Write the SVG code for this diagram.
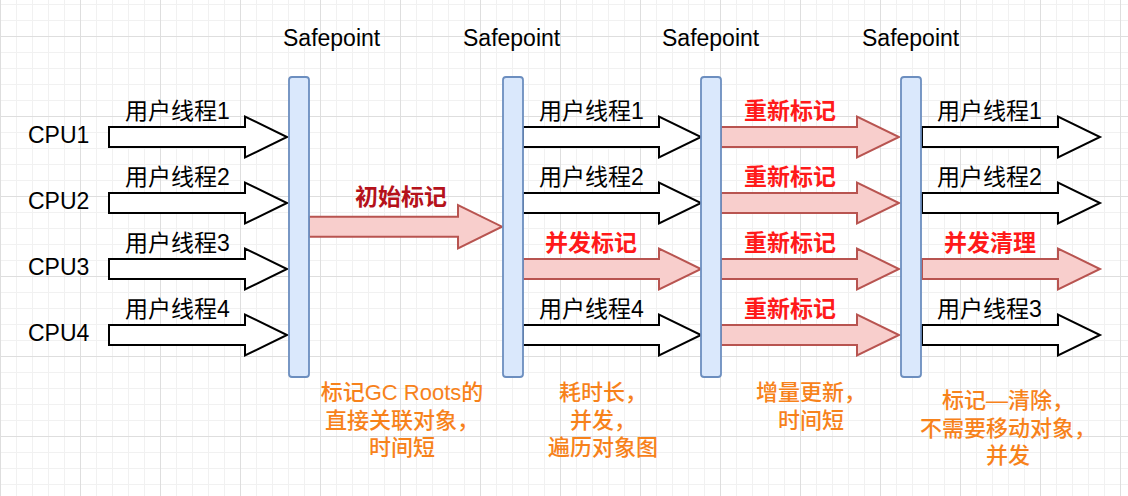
<svg xmlns="http://www.w3.org/2000/svg" width="1128" height="496" viewBox="0 0 1128 496">
<defs>
<pattern id="gMinor" width="16" height="16" x="0" y="4" patternUnits="userSpaceOnUse"><path d="M0 0.5H16M0.5 0V16" stroke="#f1f1f1" stroke-width="1" fill="none"/></pattern>
<pattern id="gMajor" width="80" height="80" x="0" y="36" patternUnits="userSpaceOnUse"><path d="M0 0.5H80M0.5 0V80" stroke="#dedede" stroke-width="1" fill="none"/></pattern>
<path id="arr" d="M0,-10 H136 V-20.5 L178,0 L136,20.5 V10 H0 Z"/>
</defs>
<style>
.lat{font-family:"Liberation Sans","Noto Sans CJK SC",sans-serif;font-size:23px;fill:#000}
.lbl{font-family:"Liberation Sans","Noto Sans CJK SC",sans-serif;font-size:23px;fill:#000}
.red{font-family:"Liberation Sans","Noto Sans CJK SC",sans-serif;font-size:23px;font-weight:bold;fill:#ff1a1a}
.dred{fill:#b5121b}
.note{font-family:"Liberation Sans","Noto Sans CJK SC",sans-serif;font-size:22px;font-weight:500;fill:#f7821b;text-anchor:middle}
.bar{fill:#dae8fc;stroke:#6c8ebf;stroke-width:1.8}
.wa{fill:#fff;stroke:#000;stroke-width:2;stroke-linejoin:miter}
.ra{fill:#f8cecc;stroke:#b85450;stroke-width:2;stroke-linejoin:miter}
</style>
<rect width="1128" height="496" fill="#fff"/>
<rect width="1128" height="496" fill="url(#gMinor)"/>
<rect width="1128" height="496" fill="url(#gMajor)"/>

<g id="safepoint-labels">
<text class="lat" x="283" y="46">Safepoint</text>
<text class="lat" x="463" y="46">Safepoint</text>
<text class="lat" x="662" y="46">Safepoint</text>
<text class="lat" x="862" y="46">Safepoint</text>
</g>

<g id="cpu-labels">
<text class="lat" x="28" y="143">CPU1</text>
<text class="lat" x="28" y="209">CPU2</text>
<text class="lat" x="28" y="275">CPU3</text>
<text class="lat" x="28" y="341">CPU4</text>
</g>

<g id="connectors">
<use href="#arr" class="wa" x="109" y="137"/>
<use href="#arr" class="wa" x="109" y="203"/>
<use href="#arr" class="wa" x="109" y="269"/>
<use href="#arr" class="wa" x="109" y="335"/>
<path class="ra" d="M309,216.7 H458 V205 L502,226.7 L458,248.5 V236.7 H309 Z"/>
<use href="#arr" class="wa" x="523" y="137"/>
<use href="#arr" class="wa" x="523" y="203"/>
<use href="#arr" class="ra" x="523" y="269"/>
<use href="#arr" class="wa" x="523" y="335"/>
<use href="#arr" class="ra" x="721" y="137"/>
<use href="#arr" class="ra" x="721" y="203"/>
<use href="#arr" class="ra" x="721" y="269"/>
<use href="#arr" class="ra" x="721" y="335"/>
<use href="#arr" class="wa" x="922" y="137"/>
<use href="#arr" class="wa" x="922" y="203"/>
<use href="#arr" class="ra" x="922" y="269"/>
<use href="#arr" class="wa" x="922" y="335"/>
</g>

<g id="safepoint1"><rect class="bar" x="289" y="77" width="20" height="300" rx="3"/></g>
<g id="safepoint2"><rect class="bar" x="503" y="77" width="20" height="300" rx="3"/></g>
<g id="safepoint3"><rect class="bar" x="701" y="77" width="20" height="300" rx="3"/></g>
<g id="safepoint4"><rect class="bar" x="901" y="77" width="20" height="300" rx="3"/></g>

<g id="arrow-labels">
<text class="lbl" x="125" y="119">用户线程1</text>
<text class="lbl" x="125" y="185">用户线程2</text>
<text class="lbl" x="125" y="251">用户线程3</text>
<text class="lbl" x="125" y="317">用户线程4</text>
<text class="red dred" x="355" y="205">初始标记</text>
<text class="lbl" x="539" y="119">用户线程1</text>
<text class="lbl" x="539" y="185">用户线程2</text>
<text class="red" x="545" y="251">并发标记</text>
<text class="lbl" x="539" y="317">用户线程4</text>
<text class="red" x="744" y="119">重新标记</text>
<text class="red" x="744" y="185">重新标记</text>
<text class="red" x="744" y="251">重新标记</text>
<text class="red" x="744" y="317">重新标记</text>
<text class="lbl" x="937" y="119">用户线程1</text>
<text class="lbl" x="937" y="185">用户线程2</text>
<text class="red" x="944" y="251">并发清理</text>
<text class="lbl" x="937" y="317">用户线程3</text>
</g>

<g id="note1">
<text class="note" x="402" y="400">标记GC Roots的</text>
<text class="note" x="402" y="428">直接关联对象，</text>
<text class="note" x="402" y="455">时间短</text>
</g>
<g id="note2">
<text class="note" x="603" y="400">耗时长，</text>
<text class="note" x="603" y="428">并发，</text>
<text class="note" x="603" y="455">遍历对象图</text>
</g>
<g id="note3">
<text class="note" x="811" y="400">增量更新，</text>
<text class="note" x="811" y="428">时间短</text>
</g>
<g id="note4">
<text class="note" x="1008" y="408">标记—清除，</text>
<text class="note" x="1008" y="436">不需要移动对象，</text>
<text class="note" x="1008" y="463">并发</text>
</g>
</svg>
